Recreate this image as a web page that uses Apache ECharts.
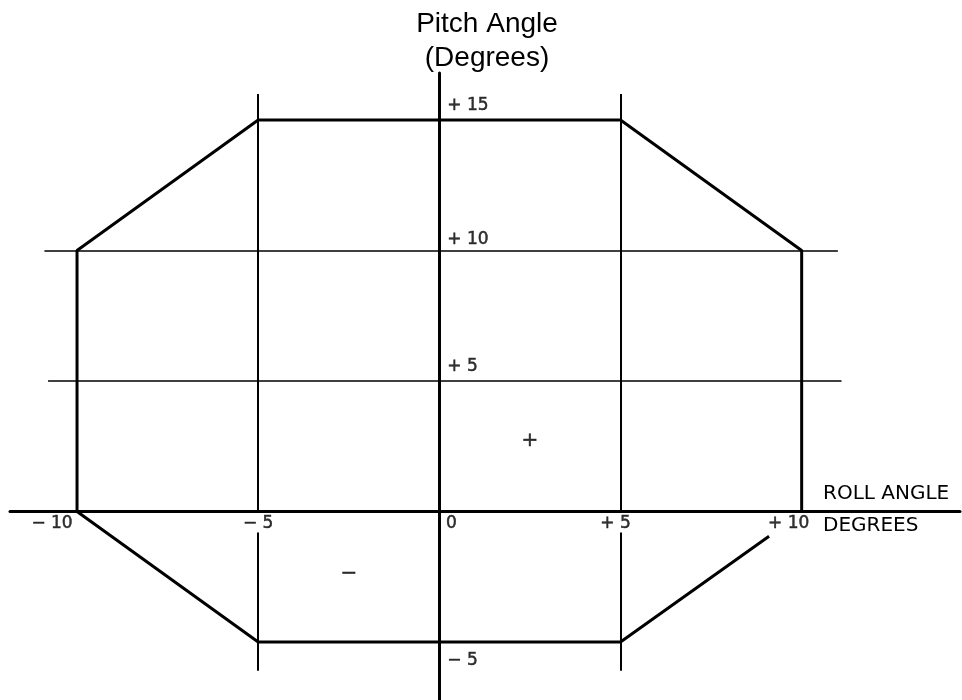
<!DOCTYPE html>
<html>
<head>
<meta charset="utf-8">
<script src="https://cdn.jsdelivr.net/npm/echarts@6/dist/echarts.min.js"></script>
<style>
    html, body { margin: 0; padding: 0; background: #fff; }
    #chart { width: 962px; height: 700px; }
</style>
</head>
<body>
<div id="chart"></div>
<script>
// Initialize
var chart = echarts.init(document.getElementById('chart'));

// envelope outline, roll / pitch in degrees
var envelopeRoll = [9.1, 5, -5, -10, -10, -5, 5, 10, 10];
var envelopePitch = [-0.95, -5, -5, 0, 10, 15, 15, 10, 0];

// thin reference lines: [x1, y1, x2, y2]
var refLines = [
    [-10.9, 10, 11, 10],
    [-10.8, 5, 11.1, 5],
    [-5, 16, -5, 0],
    [-5, -0.8, -5, -6.1],
    [5, 16, 5, 0],
    [5, -0.8, 5, -6.1]
];

// tick labels
var rollTicks = [-10, -5, 0, 5, 10];
var rollTickLabels = ['\u2212 10', '\u2212 5', '0', '+ 5', '+ 10'];
var pitchTicks = [15, 10, 5, -5];
var pitchTickLabels = ['+ 15', '+ 10', '+ 5', '\u2212 5'];

// sign markers
var signRoll = [2.5, -2.5];
var signPitch = [2.7, -2.4];
var signText = ['+', '\u2212'];

var FONT = 'DejaVu Sans';

// label nudges (px) so they sit like the original drawing
var rollNudge = [[-25, 12], [0, 12], [12, 12], [-5, 12], [-13, 12]];
var pitchNudge = [[8, -14], [8, -11], [8, -14], [8, 19]];

function envelopeData() {
    var out = [];
    for (var i = 0; i < envelopeRoll.length; i++) {
        out.push([envelopeRoll[i], envelopePitch[i]]);
    }
    return out;
}

function refLineData() {
    return refLines.map(function (s) {
        return {
            coords: [[s[0], s[1]], [s[2], s[3]]],
            lineStyle: { width: s[0] === s[2] ? 2 : 1.5 }
        };
    });
}

function tickLabelData() {
    var out = [];
    var i;
    for (i = 0; i < rollTicks.length; i++) {
        out.push({
            value: [rollTicks[i], 0],
            name: rollTickLabels[i],
            label: { align: 'center', offset: rollNudge[i] }
        });
    }
    for (i = 0; i < pitchTicks.length; i++) {
        out.push({
            value: [0, pitchTicks[i]],
            name: pitchTickLabels[i],
            label: { align: 'left', offset: pitchNudge[i] }
        });
    }
    return out;
}

function signData() {
    var out = [];
    for (var i = 0; i < signRoll.length; i++) {
        out.push({ value: [signRoll[i], signPitch[i]], name: signText[i] });
    }
    return out;
}

var option = {
    animation: false,
    backgroundColor: '#fff',
    grid: { left: 10, right: 2, top: 73, bottom: 0, outerBoundsMode: 'none' },
    xAxis: {
        type: 'value',
        min: -11.85,
        max: 14.37,
        axisLine: { onZero: true, lineStyle: { color: '#000', width: 3 } },
        axisTick: { show: false },
        axisLabel: { show: false },
        splitLine: { show: false }
    },
    yAxis: {
        type: 'value',
        min: -7.22,
        max: 16.8,
        axisLine: { onZero: true, lineStyle: { color: '#000', width: 3 } },
        axisTick: { show: false },
        axisLabel: { show: false },
        splitLine: { show: false }
    },
    graphic: [
        {
            type: 'text',
            x: 487,
            y: 7,
            style: {
                text: 'Pitch Angle\n(Degrees)',
                fontFamily: 'Liberation Sans',
                fontSize: 28,
                lineHeight: 34,
                fill: '#000',
                align: 'center',
                verticalAlign: 'top'
            }
        },
        {
            type: 'text',
            x: 823,
            y: 494,
            style: {
                text: 'ROLL ANGLE',
                fontFamily: FONT,
                fontSize: 20,
                fill: '#000',
                align: 'left',
                verticalAlign: 'middle'
            }
        },
        {
            type: 'text',
            x: 823,
            y: 526,
            style: {
                text: 'DEGREES',
                fontFamily: FONT,
                fontSize: 20,
                fill: '#000',
                align: 'left',
                verticalAlign: 'middle'
            }
        }
    ],
    series: [
        {
            name: 'reference',
            type: 'lines',
            coordinateSystem: 'cartesian2d',
            silent: true,
            lineStyle: { color: '#000', opacity: 1, width: 1.5, curveness: 0 },
            data: refLineData(),
            z: 2
        },
        {
            name: 'envelope',
            type: 'line',
            data: envelopeData(),
            showSymbol: false,
            symbol: 'none',
            lineStyle: { color: '#000', width: 3 },
            z: 3
        },
        {
            name: 'ticks',
            type: 'scatter',
            data: tickLabelData(),
            symbolSize: 0,
            silent: true,
            label: {
                show: true,
                position: 'inside',
                formatter: '{b}',
                fontFamily: FONT,
                fontSize: 17,
                color: '#000',
                textBorderColor: '#000',
                textBorderWidth: 0.5,
                verticalAlign: 'middle'
            },
            z: 4
        },
        {
            name: 'signs',
            type: 'scatter',
            data: signData(),
            symbolSize: 0,
            silent: true,
            label: {
                show: true,
                position: 'inside',
                formatter: '{b}',
                fontFamily: FONT,
                fontSize: 20,
                color: '#000',
                textBorderColor: '#000',
                textBorderWidth: 0.5
            },
            z: 4
        }
    ]
};

chart.setOption(option);
</script>
</body>
</html>
